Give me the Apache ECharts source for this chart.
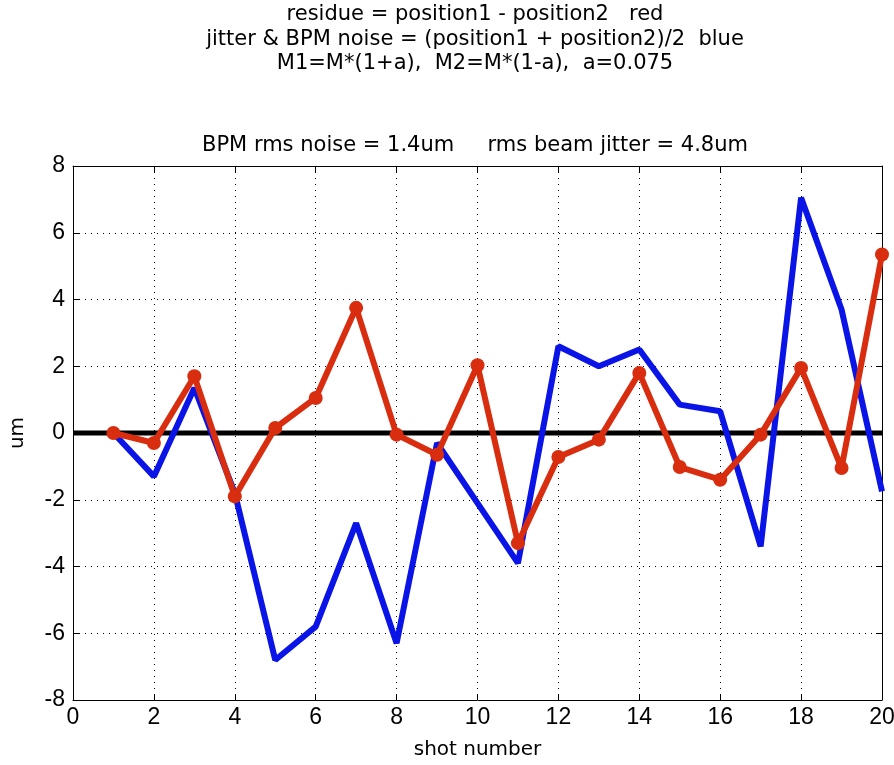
<!DOCTYPE html>
<html>
<head>
<meta charset="utf-8">
<script src="https://cdn.jsdelivr.net/npm/echarts@6/dist/echarts.min.js"></script>
<style>
html, body { margin: 0; padding: 0; background: #fff; }
#chart { width: 894px; height: 765px; }
</style>
</head>
<body>
<div id="chart"></div>
<script>
// shot numbers
const shots = [1, 2, 3, 4, 5, 6, 7, 8, 9, 10, 11, 12, 13, 14, 15, 16, 17, 18, 19, 20];
// residue = position1 - position2 (red)
const residue = [0.0, -0.3, 1.7, -1.9, 0.15, 1.05, 3.75, -0.05, -0.65, 2.03, -3.3, -0.72, -0.2, 1.8, -1.02, -1.4, -0.05, 1.95, -1.05, 5.35];
// jitter & BPM noise = (position1 + position2)/2 (blue)
const jitter = [0.0, -1.3, 1.35, -1.8, -6.8, -5.8, -2.7, -6.3, -0.3, -2.1, -3.9, 2.6, 2.0, 2.5, 0.85, 0.65, -3.4, 7.05, 3.7, -1.75];
const zeroLine = [[0, 0], [20, 0]];
const titleLines = [
    'residue = position1 - position2   red',
    'jitter & BPM noise = (position1 + position2)/2  blue',
    'M1=M*(1+a),  M2=M*(1-a),  a=0.075',
    'BPM rms noise = 1.4um     rms beam jitter = 4.8um'
];
const titleTops = [15, 40, 64, 146];

const font = '"DejaVu Sans", sans-serif';
const tickFont = '"Liberation Sans", Arial, sans-serif';

function pairs(values) {
    return shots.map((s, i) => [s, values[i]]);
}

// x/y axis shared parts
function frameAxis(extra) {
    return Object.assign({
        type: 'value',
        axisLine: { show: true, onZero: false, lineStyle: { color: '#000', width: 1 } },
        axisTick: { show: true, inside: true, length: 6, lineStyle: { color: '#000' } },
        axisLabel: { show: false },
        splitLine: { show: false }
    }, extra);
}

const chart = echarts.init(document.getElementById('chart'));

const option = {
    backgroundColor: '#fff',
    animation: false,
    graphic: titleLines.map((t, i) => ({
        type: 'text',
        x: 475,
        y: titleTops[i],
        style: {
            text: t,
            fill: '#000',
            font: '21px ' + font,
            textAlign: 'center',
            textVerticalAlign: 'middle'
        }
    })),
    grid: {
        left: 73,
        right: 12,
        top: 166,
        bottom: 65,
        outerBoundsMode: 'none',
        containLabel: false,
        show: false
    },
    xAxis: [
        frameAxis({
            min: 0,
            max: 20,
            interval: 2,
            name: 'shot number',
            nameLocation: 'middle',
            nameGap: 40,
            nameTextStyle: { fontFamily: font, fontSize: 20, color: '#000' },
            axisLabel: { show: true, fontFamily: tickFont, fontSize: 23, color: '#000', margin: 6 },
            splitLine: { show: true, lineStyle: { color: '#000', type: [1, 5], width: 1 } }
        }),
        frameAxis({ position: 'top', min: 0, max: 20, interval: 2 })
    ],
    yAxis: [
        frameAxis({
            min: -8,
            max: 8,
            interval: 2,
            name: 'um',
            nameLocation: 'middle',
            nameGap: 45,
            nameRotate: 90,
            nameTextStyle: { fontFamily: font, fontSize: 20, color: '#000' },
            axisLabel: { show: true, fontFamily: tickFont, fontSize: 23, color: '#000', margin: 8 },
            splitLine: { show: true, lineStyle: { color: '#000', type: [1, 5], width: 1 } }
        }),
        frameAxis({ position: 'right', min: -8, max: 8, interval: 2 })
    ],
    series: [
        {
            type: 'line',
            data: zeroLine,
            symbol: 'none',
            lineStyle: { color: '#000', width: 5 },
            silent: true,
            z: 2
        },
        {
            type: 'line',
            data: pairs(jitter),
            symbol: 'none',
            lineStyle: { color: '#0a14e6', width: 6 },
            z: 3
        },
        {
            type: 'line',
            data: pairs(residue),
            symbol: 'circle',
            symbolSize: 14,
            itemStyle: { color: '#d92d0f' },
            lineStyle: { color: '#d92d0f', width: 6 },
            z: 4
        }
    ]
};

chart.setOption(option);
</script>
</body>
</html>
